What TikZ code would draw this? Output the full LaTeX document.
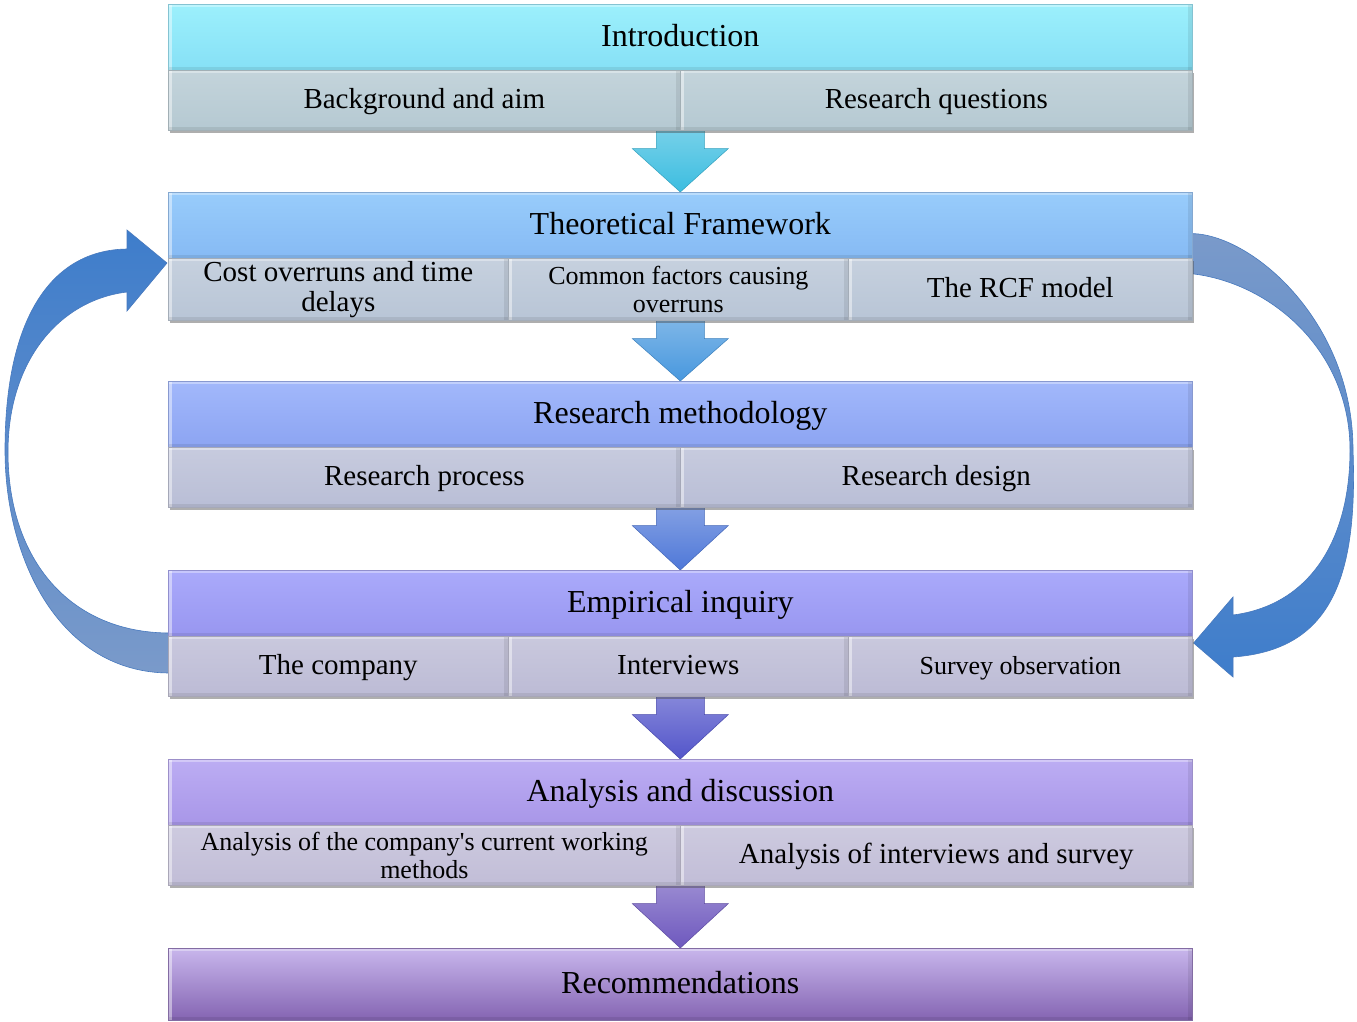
\documentclass[tikz,border=0pt]{standalone}
\usepackage{fontspec}
\setmainfont{Liberation Serif}
\usetikzlibrary{calc,shadows}
\pgfdeclarelayer{back}
\pgfdeclarelayer{under}
\pgfsetlayers{back,under,main}

% section headers (top / bottom of the gradient) and sub-row cells
\definecolor{hIntroT}{HTML}{9CF0FC}\definecolor{hIntroB}{HTML}{86E0F6}\definecolor{sIntro}{HTML}{B5C9D2}
\definecolor{hTheoT}{HTML}{98CCFB}\definecolor{hTheoB}{HTML}{86BAF4}\definecolor{sTheo}{HTML}{B8C5D6}
\definecolor{hMethT}{HTML}{A2B8FB}\definecolor{hMethB}{HTML}{8CA4F2}\definecolor{sMeth}{HTML}{B9BED6}
\definecolor{hEmpT}{HTML}{AAAAFB}\definecolor{hEmpB}{HTML}{9896F0}\definecolor{sEmp}{HTML}{BCBBD5}
\definecolor{hAnaT}{HTML}{BCADF3}\definecolor{hAnaB}{HTML}{A896E8}\definecolor{sAna}{HTML}{C1BDD7}
\definecolor{hRecT}{HTML}{C8B6EC}\definecolor{hRecB}{HTML}{8464B2}
% block arrows between sections
\definecolor{aOne}{HTML}{3CBDE0}\definecolor{aTwo}{HTML}{4898DE}\definecolor{aThree}{HTML}{4F78D8}
\definecolor{aFour}{HTML}{5355CA}\definecolor{aFive}{HTML}{6E58BE}
% feedback loops
\definecolor{loopDark}{HTML}{3E7DCB}\definecolor{loopLight}{HTML}{7A9ACA}\definecolor{loopEdge}{HTML}{4779BE}

\tikzset{
  bevel/.style={path picture={
    \fill[white,opacity=.45] (path picture bounding box.north west) rectangle ([xshift=4pt]path picture bounding box.south west);
    \fill[white,opacity=.35] (path picture bounding box.north west) rectangle ([yshift=-3pt]path picture bounding box.north east);
    \fill[black,opacity=.08] (path picture bounding box.north east) rectangle ([xshift=-4pt]path picture bounding box.south east);
    \fill[black,opacity=.08] (path picture bounding box.south west) rectangle ([yshift=3pt]path picture bounding box.south east);
  }},
  twoline/.style={text height={}, text depth={}},
  hdr/.style 2 args={anchor=north west, minimum width=1024pt, minimum height=66pt, inner sep=0pt,
    top color=#1, bottom color=#2, draw=#2!70!gray, line width=.6pt,
    font=\fontsize{32}{34}\selectfont, text height=27pt, text depth=8pt, bevel},
  cell/.style 2 args={anchor=north west, minimum width=#1, minimum height=60pt, inner sep=0pt,
    top color=#2!80!white, bottom color=#2, draw=#2!65!gray, line width=.6pt,
    font=\fontsize{29}{30}\selectfont, text height=24.5pt, text depth=7.2pt, align=center, bevel,
    drop shadow={shadow xshift=1.5pt, shadow yshift=-3pt, opacity=.45, fill=black!70}},
  small/.style={font=\fontsize{26}{28}\selectfont, text height=22pt, text depth=6.5pt},
}

% downward block arrow: #1 start on the upper section, #2 tip on the next header, #3 colour
\newcommand\flowarrow[3]{%
  \shadedraw[top color=#3!70!white, bottom color=#3, draw=#3!85!black, line width=.5pt]
    ($(#1)+(-24,-2)$) -- ($(#1)+(-24,18)$) -- ($(#1)+(-48,18)$) -- (#2)
    -- ($(#1)+(48,18)$) -- ($(#1)+(24,18)$) -- ($(#1)+(24,-2)$) -- cycle;}

\begin{document}
\begin{tikzpicture}[x=1pt,y=-1pt]
\useasboundingbox (0,0) rectangle (1357,1021);
\begin{pgfonlayer}{back}
  \fill[white] (0,0) rectangle (1357,1021);
\end{pgfonlayer}

% Introduction
\node[hdr={hIntroT}{hIntroB}] (intro) at (168,4) {Introduction};
\node[cell={512pt}{sIntro}] (ibg) at (168,70) {Background and aim};
\node[cell={512pt}{sIntro}] (irq) at (680,70) {Research questions};

% Theoretical framework
\node[hdr={hTheoT}{hTheoB}] (theory) at (168,192) {Theoretical Framework};
\node[cell={340pt}{sTheo}, minimum height=62pt, twoline] (tcost) at (168,258) {Cost overruns and time\\delays};
\node[cell={340pt}{sTheo}, minimum height=62pt, small, twoline] (tcom) at (508,258) {Common factors causing\\overruns};
\node[cell={344pt}{sTheo}, minimum height=62pt] (trcf) at (848,258) {The RCF model};

% Research methodology
\node[hdr={hMethT}{hMethB}] (method) at (168,381) {Research methodology};
\node[cell={512pt}{sMeth}] (mproc) at (168,447) {Research process};
\node[cell={512pt}{sMeth}] (mdes) at (680,447) {Research design};

% Empirical inquiry
\node[hdr={hEmpT}{hEmpB}] (empir) at (168,570) {Empirical inquiry};
\node[cell={340pt}{sEmp}] (ecom) at (168,636) {The company};
\node[cell={340pt}{sEmp}] (eint) at (508,636) {Interviews};
\node[cell={344pt}{sEmp}, small] (esur) at (848,636) {Survey observation};

% Analysis and discussion
\node[hdr={hAnaT}{hAnaB}] (analysis) at (168,759) {Analysis and discussion};
\node[cell={512pt}{sAna}, small, twoline] (acur) at (168,825) {Analysis of the company\textquotesingle s current working\\methods};
\node[cell={512pt}{sAna}] (aint) at (680,825) {Analysis of interviews and survey};

% Recommendations
\node[hdr={hRecT}{hRecB}, minimum height=72pt] (recom) at (168,948) {Recommendations};

\begin{pgfonlayer}{under}
  \coordinate (s1) at (intro.center |- ibg.south);
  \coordinate (s2) at (theory.center |- tcom.south);
  \coordinate (s3) at (method.center |- mproc.south);
  \coordinate (s4) at (empir.center |- eint.south);
  \coordinate (s5) at (analysis.center |- acur.south);
  \flowarrow{s1}{theory.north}{aOne}
  \flowarrow{s2}{method.north}{aTwo}
  \flowarrow{s3}{empir.north}{aThree}
  \flowarrow{s4}{analysis.north}{aFour}
  \flowarrow{s5}{recom.north}{aFive}

  % loop back: empirical inquiry -> theoretical framework
  \shadedraw[top color=loopDark, bottom color=loopLight, draw=loopEdge, line width=.6pt]
    ($(ecom.north west)+(2,-3)$) .. controls (70,633) and (8,560) .. (8,452)
    .. controls (8,360) and (60,300) .. (127,292) -- (127,311)
    -- ($(tcost.north west)+(-1,5)$) -- (127,230) -- (127,249)
    .. controls (50,250) and (5,320) .. (5,450)
    .. controls (5,560) and (60,673) .. ($(ecom.north west)+(2,37)$) -- cycle;

  % forward loop: theoretical framework -> empirical inquiry
  \shadedraw[top color=loopLight, bottom color=loopDark, draw=loopEdge, line width=.6pt]
    ($(theory.south east)+(-2,-25)$) .. controls (1250,233) and (1353,320) .. (1353,450)
    .. controls (1358,580) and (1330,650) .. (1233,657) -- (1233,677)
    -- ($(esur.north east)+(1,7)$) -- (1233,597) -- (1233,615)
    .. controls (1310,605) and (1350,540) .. (1350,450)
    .. controls (1350,350) and (1270,282) .. ($(theory.south east)+(-2,15)$) -- cycle;
\end{pgfonlayer}
\end{tikzpicture}
\end{document}
